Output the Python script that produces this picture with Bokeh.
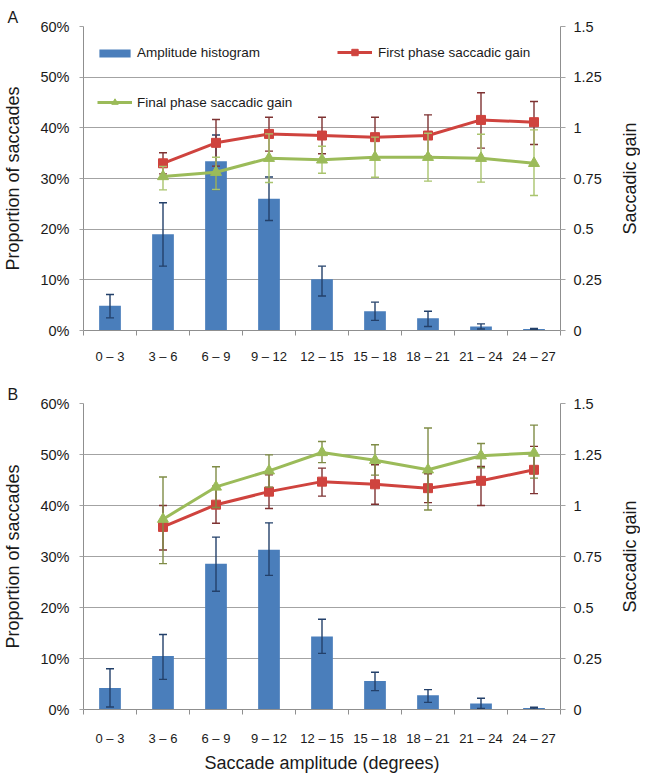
from bokeh.plotting import figure
from bokeh.models import (Range1d, LinearAxis, FixedTicker, Whisker, TeeHead, ColumnDataSource,
                          Legend, LegendItem, Title)
from bokeh.layouts import column, row
from bokeh.embed import file_html
from bokeh.resources import INLINE

# ---------------- data ----------------
categories = ["0 – 3", "3 – 6", "6 – 9", "9 – 12", "12 – 15", "15 – 18", "18 – 21", "21 – 24", "24 – 27"]
pct_ticks = [0, 10, 20, 30, 40, 50, 60]
pct_labels = ["0%", "10%", "20%", "30%", "40%", "50%", "60%"]
gain_ticks = [0, 0.25, 0.5, 0.75, 1, 1.25, 1.5]
gain_labels = ["0", "0.25", "0.5", "0.75", "1", "1.25", "1.5"]

# Panel A
a_hist = [4.9, 19.0, 33.4, 26.0, 10.1, 3.8, 2.4, 0.8, 0.3]
a_hist_lo = [2.5, 12.7, 27.8, 21.7, 6.8, 2.0, 0.8, 0.3, 0.2]
a_hist_hi = [7.1, 25.2, 38.6, 30.3, 12.7, 5.6, 3.8, 1.3, 0.4]
a_first = [0.825, 0.926, 0.970, 0.962, 0.954, 0.962, 1.039, 1.028]
a_first_lo = [0.773, 0.811, 0.885, 0.872, 0.856, 0.860, 0.900, 0.918]
a_first_hi = [0.877, 1.041, 1.052, 1.052, 1.052, 1.064, 1.173, 1.130]
a_final = [0.760, 0.781, 0.850, 0.842, 0.855, 0.855, 0.850, 0.825]
a_final_lo = [0.694, 0.696, 0.730, 0.776, 0.756, 0.737, 0.732, 0.666]
a_final_hi = [0.810, 0.855, 0.970, 0.909, 0.954, 0.973, 0.968, 0.990]

# Panel B
b_hist = [4.2, 10.5, 28.6, 31.3, 14.3, 5.6, 2.8, 1.2, 0.3]
b_hist_lo = [0.5, 5.9, 23.2, 26.3, 11.0, 3.7, 1.4, 0.2, 0.1]
b_hist_hi = [8.0, 14.7, 33.8, 36.6, 17.7, 7.3, 3.9, 2.2, 0.45]
b_first = [0.895, 1.004, 1.068, 1.117, 1.104, 1.085, 1.121, 1.175]
b_first_lo = [0.782, 0.913, 0.985, 1.046, 1.006, 1.014, 1.000, 1.058]
b_first_hi = [1.000, 1.095, 1.150, 1.183, 1.200, 1.156, 1.191, 1.290]
b_final = [0.933, 1.091, 1.170, 1.260, 1.222, 1.175, 1.244, 1.257]
b_final_lo = [0.715, 0.990, 1.090, 1.210, 1.149, 0.978, 1.185, 1.134]
b_final_hi = [1.140, 1.190, 1.248, 1.314, 1.298, 1.380, 1.304, 1.394]

# ---------------- styling ----------------
FONT = "Liberation Sans"
TXT = "#1a1a1a"
GRID = "#a3a3a3"
AX = "#8f8f8f"
BLUE = "#4a7ebb"
RED = "#cf433e"
GREEN = "#9bbb59"

centers = [i + 0.5 for i in range(len(categories))]
bounds = [float(i) for i in range(len(categories) + 1)]
gain_x = centers[1:]


def whisker(p, x, lo, hi, color, rng=None):
    src = ColumnDataSource(dict(x=x, lo=lo, hi=hi))
    kw = dict(y_range_name=rng) if rng else {}
    w = Whisker(source=src, base="x", upper="hi", lower="lo", line_color=color, line_width=1.4,
                upper_head=TeeHead(size=8, line_color=color, line_width=1.4),
                lower_head=TeeHead(size=8, line_color=color, line_width=1.4),
                level="glyph", **kw)
    p.renderers.append(w)
    return w


def right_title(frame_h, top_b, bottom_b):
    """Narrow strip carrying the right-hand axis title, reading bottom-to-top."""
    t = figure(frame_width=1, frame_height=frame_h, min_border_left=34, min_border_right=0,
               min_border_top=top_b, min_border_bottom=bottom_b, x_axis_location=None,
               y_axis_location=None, toolbar_location=None, output_backend="svg",
               outline_line_color=None, background_fill_color="white", border_fill_color="white",
               title="Saccadic gain", title_location="left")
    t.grid.visible = False
    t.title.align = "center"
    t.title.standoff = 0
    t.title.text_font = FONT
    t.title.text_font_size = "18px"
    t.title.text_font_style = "normal"
    t.title.text_color = TXT
    return t


def make_panel(letter, hist, hist_lo, hist_hi, first, first_lo, first_hi, final, final_lo, final_hi,
               frame_h, top_b, bottom_b, label_standoff, xlabel, legend, green_err, red_err):
    p = figure(frame_width=477, frame_height=frame_h, x_range=Range1d(0, 9), y_range=Range1d(0, 60),
               output_backend="svg", toolbar_location=None,
               min_border_left=83, min_border_right=45, min_border_top=top_b, min_border_bottom=bottom_b,
               outline_line_color=None, background_fill_color="white", border_fill_color="white")
    p.extra_y_ranges = {"gain": Range1d(0, 1.5)}
    p.title = Title(text=letter, align="left", offset=-76, standoff=2, text_font=FONT,
                    text_font_size="16px", text_font_style="normal", text_color=TXT)

    # grid
    p.xgrid.visible = False
    p.ygrid.ticker = FixedTicker(ticks=pct_ticks)
    p.ygrid.grid_line_color = GRID
    p.ygrid.grid_line_width = 1

    # x axis
    xa = p.xaxis[0]
    xa.ticker = FixedTicker(ticks=centers, minor_ticks=bounds)
    xa.major_label_overrides = {c: lab for c, lab in zip(centers, categories)}
    xa.major_tick_out = 0
    xa.major_tick_in = 0
    xa.minor_tick_out = 5
    xa.minor_tick_in = 0
    xa.minor_tick_line_color = AX
    xa.axis_line_color = AX
    xa.major_label_standoff = label_standoff
    xa.major_label_text_font = FONT
    xa.major_label_text_font_size = "13px"
    xa.major_label_text_color = TXT
    if xlabel:
        xa.axis_label = xlabel
        xa.axis_label_text_font = FONT
        xa.axis_label_text_font_size = "18px"
        xa.axis_label_text_font_style = "normal"
        xa.axis_label_text_color = TXT
        xa.axis_label_standoff = 4

    # left axis
    ya = p.yaxis[0]
    ya.ticker = FixedTicker(ticks=pct_ticks)
    ya.major_label_overrides = {t: lab for t, lab in zip(pct_ticks, pct_labels)}
    ya.major_tick_out = 4
    ya.major_tick_in = 0
    ya.minor_tick_line_color = None
    ya.major_tick_line_color = GRID
    ya.axis_line_color = AX
    ya.major_label_standoff = 10
    ya.major_label_text_font = FONT
    ya.major_label_text_font_size = "14.5px"
    ya.major_label_text_color = TXT
    ya.axis_label = "Proportion of saccades"
    ya.axis_label_text_font = FONT
    ya.axis_label_text_font_size = "18px"
    ya.axis_label_text_font_style = "normal"
    ya.axis_label_text_color = TXT
    ya.axis_label_standoff = 14

    # right axis (ticks + labels)
    ra = LinearAxis(y_range_name="gain", ticker=FixedTicker(ticks=gain_ticks))
    ra.major_label_overrides = {t: lab for t, lab in zip(gain_ticks, gain_labels)}
    ra.major_tick_out = 5
    ra.major_tick_in = 0
    ra.minor_tick_line_color = None
    ra.major_tick_line_color = GRID
    ra.axis_line_color = AX
    ra.major_label_standoff = 8
    ra.major_label_text_font = FONT
    ra.major_label_text_font_size = "14.5px"
    ra.major_label_text_color = TXT
    p.add_layout(ra, "right")

    # bars + errors
    bars = p.vbar(x=centers, top=hist, width=0.41, fill_color=BLUE, line_color=None)
    whisker(p, centers, hist_lo, hist_hi, "#23406a")

    # first phase gain
    whisker(p, gain_x, first_lo, first_hi, red_err, "gain")
    rl = p.line(gain_x, first, line_color=RED, line_width=3, y_range_name="gain")
    rs = p.scatter(gain_x, first, marker="square", size=9, fill_color=RED, line_color=RED,
                   y_range_name="gain")

    # final phase gain
    whisker(p, gain_x, final_lo, final_hi, green_err, "gain")
    gl = p.line(gain_x, final, line_color=GREEN, line_width=3, y_range_name="gain")
    gs = p.scatter(gain_x, final, marker="triangle", size=11, fill_color=GREEN, line_color=GREEN,
                   y_range_name="gain")

    if legend:
        common = dict(padding=0, margin=0, spacing=0, border_line_color=None, background_fill_alpha=0,
                      label_text_font=FONT, label_text_font_size="13.5px", label_text_color=TXT)
        lb = Legend(items=[LegendItem(label="Amplitude histogram", renderers=[bars])],
                    location=(12, 270), glyph_width=39, glyph_height=10, label_height=10,
                    label_standoff=3, **common)
        lg = Legend(items=[LegendItem(label="Final phase saccadic gain", renderers=[gl, gs])],
                    location=(14, 220), glyph_width=35, glyph_height=16, label_height=16,
                    label_standoff=5, **common)
        lr = Legend(items=[LegendItem(label="First phase saccadic gain", renderers=[rl, rs])],
                    location=(254, 270), glyph_width=35, glyph_height=16, label_height=16,
                    label_standoff=6, **common)
        for lgd in (lb, lg, lr):
            p.add_layout(lgd, "center")
    return p


pA = make_panel("A", a_hist, a_hist_lo, a_hist_hi, a_first, a_first_lo, a_first_hi,
                a_final, a_final_lo, a_final_hi, frame_h=304, top_b=26, bottom_b=50,
                label_standoff=13, xlabel=None, legend=True,
                green_err="#a9c46d", red_err="#7e3232")
pB = make_panel("B", b_hist, b_hist_lo, b_hist_hi, b_first, b_first_lo, b_first_hi,
                b_final, b_final_lo, b_final_hi, frame_h=306, top_b=23, bottom_b=56,
                label_standoff=16, xlabel="Saccade amplitude (degrees)", legend=False,
                green_err="#7f8c46", red_err="#7e3232")
tA = right_title(304, 26, 50)
tB = right_title(306, 23, 56)

layout = column(row(pA, tA, spacing=0), row(pB, tB, spacing=0), spacing=0)
open("out.html", "w").write(file_html(layout, INLINE))
